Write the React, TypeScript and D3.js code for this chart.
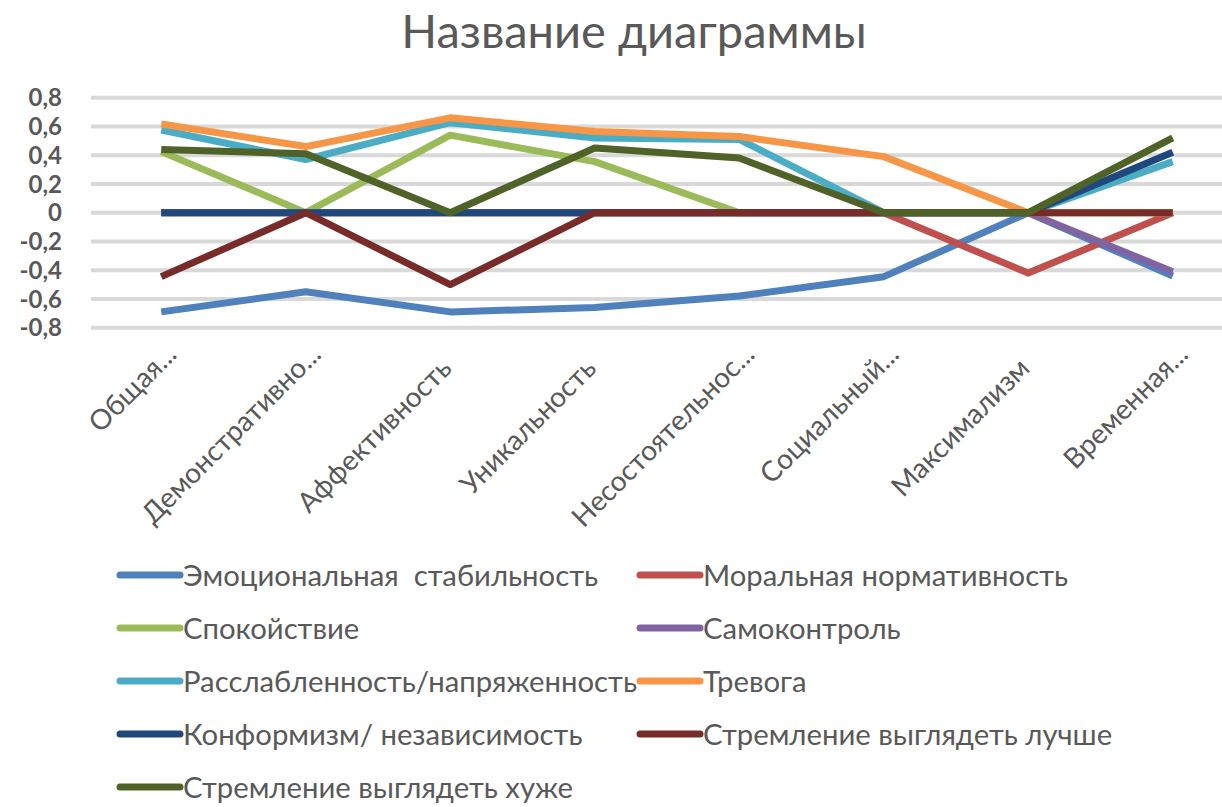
import React from "react";
import * as d3 from "d3";

const categories = [
  "Общая...",
  "Демонстративно...",
  "Аффективность",
  "Уникальность",
  "Несостоятельнос...",
  "Социальный...",
  "Максимализм",
  "Временная...",
];

const seriesNames = [
  "Эмоциональная  стабильность",
  "Моральная нормативность",
  "Спокойствие",
  "Самоконтроль",
  "Расслабленность/напряженность",
  "Тревога",
  "Конформизм/ независимость",
  "Стремление выглядеть лучше",
  "Стремление выглядеть хуже",
];

const emotional = [-0.69, -0.55, -0.69, -0.66, -0.58, -0.445, 0, -0.44];
const moral = [0, 0, 0, 0, 0, 0, -0.42, 0];
const calm = [0.425, 0, 0.54, 0.355, 0, 0, 0, 0];
const selfControl = [0, 0, 0, 0, 0, 0, 0, -0.41];
const relax = [0.575, 0.37, 0.626, 0.52, 0.51, 0, 0, 0.355];
const anxiety = [0.617, 0.46, 0.66, 0.565, 0.53, 0.39, 0, 0];
const conform = [0, 0, 0, 0, 0, 0, 0, 0.42];
const lookBetter = [-0.445, 0, -0.5, 0, 0, 0, 0, 0];
const lookWorse = [0.44, 0.41, 0, 0.45, 0.38, 0, 0, 0.52];

const seriesValues = [emotional, moral, calm, selfControl, relax, anxiety, conform, lookBetter, lookWorse];
const colors = ["#4F81BD", "#C0504D", "#9BBB59", "#8064A2", "#4BACC6", "#F79646", "#1F497D", "#772C2A", "#4F6228"];

const yTicks = [0.8, 0.6, 0.4, 0.2, 0, -0.2, -0.4, -0.6, -0.8];

const W = 1222;
const H = 807;
const font = "Lato, 'Open Sans', sans-serif";
const textColor = "#595959";

export default function App() {
  const x = d3.scaleBand<string>().domain(categories).range([89, 1245]);
  const y = d3.scaleLinear().domain([-0.8, 0.8]).range([327.7, 97.7]);
  const cx = (c: string) => (x(c) ?? 0) + x.bandwidth() / 2;

  const line = d3
    .line<number>()
    .x((_, i) => cx(categories[i]))
    .y((d) => y(d));

  const fmt = (t: number) => (t === 0 ? "0" : d3.format(".1f")(t).replace(".", ",").replace("−", "-"));

  return (
    <svg width={W} height={H} style={{ position: "absolute", left: 0, top: 0, background: "#fff" }}>
      <text x={634} y={48} textAnchor="middle" fontFamily={font} fontSize={47} fill={textColor}>
        Название диаграммы
      </text>

      {yTicks.map((t) => (
        <g key={t}>
          <line x1={91} x2={1245} y1={y(t)} y2={y(t)} stroke="#D9D9D9" strokeWidth={4} />
          <text
            x={62}
            y={y(t)}
            dy="0.36em"
            textAnchor="end"
            fontFamily={font}
            fontSize={24}
            fontWeight={700}
            fill={textColor}
          >
            {fmt(t)}
          </text>
        </g>
      ))}

      {seriesValues.map((vals, i) => (
        <path
          key={seriesNames[i]}
          d={line(vals) ?? ""}
          fill="none"
          stroke={colors[i]}
          strokeWidth={7}
          strokeLinejoin="round"
        />
      ))}

      {categories.map((c) => {
        const main = c.replace(/\.\.\.$/, "");
        const hasDots = main !== c;
        const px = cx(c) + 3;
        const py = 370;
        return (
          <g key={c} transform={`translate(${px},${py}) rotate(-45)`} fontFamily={font} fontSize={28} fill={textColor}>
            <text textAnchor="end">{main}</text>
            {hasDots && <text textAnchor="start">...</text>}
          </g>
        );
      })}

      {seriesNames.map((name, i) => {
        const col = i % 2;
        const row = Math.floor(i / 2);
        const sx = col === 0 ? 120 : 640;
        const sy = 575 + row * 53;
        return (
          <g key={name}>
            <line x1={sx} x2={sx + 60} y1={sy} y2={sy} stroke={colors[i]} strokeWidth={7} strokeLinecap="round" />
            <text
              x={sx + 63}
              y={sy}
              dy="0.36em"
              fontFamily={font}
              fontSize={29.3}
              fill={textColor}
              style={{ whiteSpace: "pre" }}
            >
              {name}
            </text>
          </g>
        );
      })}
    </svg>
  );
}
